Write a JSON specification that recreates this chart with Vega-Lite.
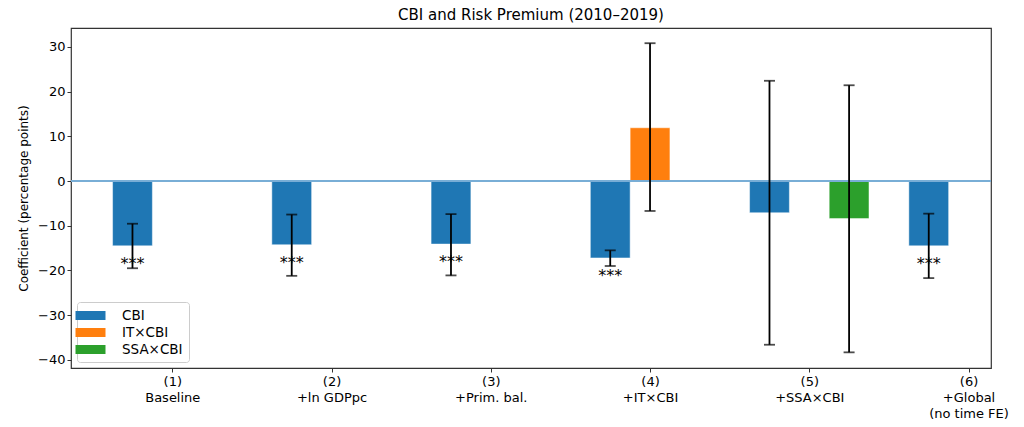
{
  "$schema": "https://vega.github.io/schema/vega-lite/v6.json",
  "autosize": {"type": "none"},
  "padding": {"left": 71, "top": 28, "right": 33, "bottom": 59},
  "width": 920,
  "height": 340,
  "title": {"text": "CBI and Risk Premium (2010–2019)", "fontSize": 15, "fontWeight": "normal", "color": "black", "offset": 5},
  "data": {
    "values": [
      {"model": "(1)|Baseline", "term": "CBI", "coef": -14.5, "lo": -19.5, "hi": -9.55, "sig": "***"},
      {"model": "(2)|+ln GDPpc", "term": "CBI", "coef": -14.25, "lo": -21.2, "hi": -7.5, "sig": "***"},
      {"model": "(3)|+Prim. bal.", "term": "CBI", "coef": -14.1, "lo": -21.1, "hi": -7.4, "sig": "***"},
      {"model": "(4)|+IT×CBI", "term": "CBI", "coef": -17.2, "lo": -19.0, "hi": -15.5, "sig": "***"},
      {"model": "(4)|+IT×CBI", "term": "IT×CBI", "coef": 11.9, "lo": -6.7, "hi": 30.8, "sig": ""},
      {"model": "(5)|+SSA×CBI", "term": "CBI", "coef": -7.1, "lo": -36.6, "hi": 22.4, "sig": ""},
      {"model": "(5)|+SSA×CBI", "term": "SSA×CBI", "coef": -8.4, "lo": -38.3, "hi": 21.4, "sig": ""},
      {"model": "(6)|+Global|(no time FE)", "term": "CBI", "coef": -14.5, "lo": -21.7, "hi": -7.3, "sig": "***"}
    ]
  },
  "encoding": {
    "x": {
      "field": "model",
      "type": "nominal",
      "sort": null,
      "scale": {"type": "point", "padding": 0.3885, "align": 0.8185},
      "axis": {"title": null, "labelAngle": 0, "labelExpr": "split(datum.label, '|')", "labelLineHeight": 16, "labelPadding": 3, "domain": false}
    },
    "xOffset": {
      "field": "term",
      "type": "nominal",
      "scale": {"domain": ["CBI", "IT×CBI", "SSA×CBI"], "range": [-59.7, 59.7], "paddingInner": 0, "paddingOuter": 0}
    }
  },
  "layer": [
    {
      "mark": {"type": "bar", "stroke": "white", "strokeWidth": 0.8, "strokeOpacity": 0.6},
      "encoding": {
        "y": {
          "field": "coef",
          "type": "quantitative",
          "scale": {"domain": [-41.8, 34.2], "nice": false, "zero": false},
          "axis": {"title": "Coefficient (percentage points)", "values": [-40, -30, -20, -10, 0, 10, 20, 30], "grid": false, "domain": false, "titlePadding": 7, "titleFontSize": 12}
        },
        "fill": {
          "field": "term",
          "type": "nominal",
          "scale": {"domain": ["CBI", "IT×CBI", "SSA×CBI"], "range": ["#1f77b4", "#ff7f0e", "#2ca02c"]},
          "legend": {"title": null}
        }
      }
    },
    {
      "mark": {"type": "rule", "color": "#7aaed6", "strokeWidth": 1.3},
      "encoding": {"y": {"datum": 0}, "x": null, "xOffset": null}
    },
    {
      "mark": {"type": "rule", "color": "black", "strokeWidth": 1.8},
      "encoding": {"y": {"field": "lo", "type": "quantitative"}, "y2": {"field": "hi"}}
    },
    {
      "mark": {"type": "tick", "color": "black", "size": 11, "thickness": 1.8, "orient": "horizontal"},
      "encoding": {"y": {"field": "lo", "type": "quantitative"}}
    },
    {
      "mark": {"type": "tick", "color": "black", "size": 11, "thickness": 1.8, "orient": "horizontal"},
      "encoding": {"y": {"field": "hi", "type": "quantitative"}}
    },
    {
      "mark": {"type": "text", "fontSize": 16, "baseline": "middle", "dy": 18, "color": "black"},
      "encoding": {"y": {"field": "coef", "type": "quantitative"}, "text": {"field": "sig"}}
    }
  ],
  "config": {
    "font": "DejaVu Sans",
    "view": {"stroke": "#333333", "strokeWidth": 1.2},
    "axis": {"labelFontSize": 13, "labelColor": "black", "tickColor": "#333333", "tickSize": 4, "titleColor": "black", "titleFontWeight": "normal"},
    "legend": {
      "orient": "bottom-left",
      "offset": 6,
      "padding": 6,
      "strokeColor": "#cccccc",
      "fillColor": "white",
      "cornerRadius": 3,
      "symbolType": "M-2,-0.6H2V0.6H-2Z",
      "symbolSize": 225,
      "symbolStrokeWidth": 0,
      "labelFontSize": 13.5,
      "labelOffset": 24,
      "rowPadding": 3
    }
  }
}
